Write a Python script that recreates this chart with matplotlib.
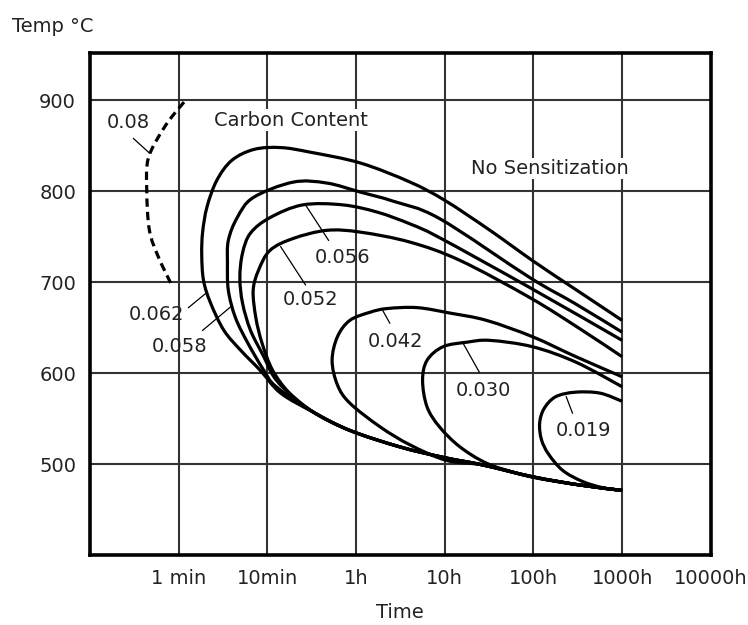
import matplotlib
matplotlib.use("Agg")
import matplotlib.pyplot as plt
from matplotlib.path import Path
from matplotlib.patches import PathPatch

# x axis: decades, 0 = 1 min ... 6 = 10000h (evenly spaced as in the original chart)
tick_labels = ["1 min", "10min", "1h", "10h", "100h", "1000h", "10000h"]
temps = [500, 600, 700, 800, 900]

# shared lower envelope the C-curves run into
env_x = [1.52, 1.93, 2.49, 3.0, 3.43, 3.99, 4.52, 5.0]
env_t = [557, 537, 519, 507, 499, 486, 477, 471]

c062_x = [5.0, 4.46, 4.0, 3.51, 3.0, 2.61, 2.05, 1.48, 1.15, 0.85, 0.6, 0.43, 0.32, 0.27, 0.26, 0.28, 0.36, 0.51, 0.70, 0.92, 1.15]
c062_t = [658, 693, 723, 757, 790, 810, 831, 843, 848, 846, 834, 812, 783, 755, 730, 702, 677, 647, 625, 603, 578]
c058_x = [5.0, 4.46, 3.96, 2.94, 2.42, 2.05, 1.67, 1.29, 0.84, 0.66, 0.56, 0.55, 0.56, 0.64, 0.78, 0.96, 1.1]
c058_t = [645, 677, 705, 770, 789, 799, 809, 810, 793, 771, 746, 721, 691, 661, 633, 603, 585]
c056_x = [5.0, 3.96, 2.94, 2.61, 2.24, 1.85, 1.40, 1.03, 0.81, 0.72, 0.69, 0.72, 0.81, 0.96, 1.06, 1.2]
c056_t = [636, 694, 749, 764, 777, 785, 785, 771, 754, 732, 705, 677, 647, 618, 598, 582]
c052_x = [5.0, 4.52, 3.96, 3.17, 2.61, 2.05, 1.67, 1.29, 1.03, 0.90, 0.84, 0.87, 0.94, 1.06, 1.25]
c052_t = [618, 649, 683, 724, 744, 755, 757, 748, 735, 713, 691, 661, 633, 603, 578]
c042_x = [5.0, 4.48, 3.99, 3.47, 3.06, 2.69, 2.35, 2.16, 1.93, 1.79, 1.73, 1.79, 1.93, 2.27, 2.61, 3.02]
c042_t = [596, 618, 640, 658, 666, 672, 671, 667, 658, 640, 614, 587, 567, 541, 521, 504]
c030_x = [5.0, 4.48, 3.99, 3.51, 3.25, 2.98, 2.80, 2.75, 2.80, 2.94, 3.17, 3.47, 3.81, 4.07]
c030_t = [585, 612, 629, 636, 634, 629, 614, 592, 563, 541, 519, 501, 490, 484]
c019_x = [5.0, 4.75, 4.47, 4.25, 4.12, 4.07, 4.09, 4.17, 4.33, 4.55, 4.78, 5.0]
c019_t = [569, 578, 579, 574, 561, 545, 527, 511, 493, 481, 474, 471]
c08_x = [0.06, -0.15, -0.34, -0.36, -0.33, -0.23, -0.09]
c08_t = [898, 872, 837, 801, 757, 728, 699]

# label text, text position, leader line end on the curve
labels = ["0.08", "0.062", "0.058", "0.056", "0.052", "0.042", "0.030", "0.019"]
label_x = [-0.57, -0.25, 0.01, 1.85, 1.49, 2.44, 3.44, 4.56]
label_t = [876, 665, 629, 727, 681, 635, 581, 537]
lead_x0 = [-0.51, 0.11, 0.27, 1.69, 1.43, 2.38, 3.39, 4.44]
lead_t0 = [858, 672, 647, 746, 697, 655, 601, 556]
lead_x1 = [-0.33, 0.31, 0.60, 1.43, 1.15, 2.30, 3.20, 4.37]
lead_t1 = [842, 688, 674, 785, 739, 669, 634, 574]


def smooth_path(xs, ys):
    # Catmull-Rom through the read points, drawn as cubic Bezier segments
    pts = list(zip(xs, ys))
    verts = [pts[0]]
    codes = [Path.MOVETO]
    n = len(pts)
    for i in range(n - 1):
        p0 = pts[max(i - 1, 0)]
        p1 = pts[i]
        p2 = pts[i + 1]
        p3 = pts[min(i + 2, n - 1)]
        c1 = (p1[0] + (p2[0] - p0[0]) / 6, p1[1] + (p2[1] - p0[1]) / 6)
        c2 = (p2[0] - (p3[0] - p1[0]) / 6, p2[1] - (p3[1] - p1[1]) / 6)
        verts += [c1, c2, p2]
        codes += [Path.CURVE4] * 3
    return Path(verts, codes)


def curve(ax, xs, ys, **kw):
    ax.add_patch(PathPatch(smooth_path(xs, ys), fill=False, edgecolor="black",
                           lw=2.3, zorder=3, capstyle="butt", **kw))


fig = plt.figure(figsize=(7.48, 6.25), dpi=100)
ax = fig.add_axes([0.1203, 0.112, 0.830, 0.8032])

for x in range(6):
    ax.axvline(x, color="#333333", lw=1.5, zorder=1)
for t in temps:
    ax.axhline(t, color="#333333", lw=1.5, zorder=1)

solid = [(c062_x, c062_t), (c058_x, c058_t), (c056_x, c056_t), (c052_x, c052_t)]
for cx, ct in solid:
    curve(ax, cx + env_x, ct + env_t)
curve(ax, c042_x + env_x[4:], c042_t + env_t[4:])
curve(ax, c030_x + env_x[6:], c030_t + env_t[6:])
curve(ax, c019_x, c019_t)
curve(ax, c08_x, c08_t, linestyle=(0, (2.6, 1.6)))

for i, lab in enumerate(labels):
    ax.text(label_x[i], label_t[i], lab, ha="center", va="center", fontsize=14,
            color="#222222", zorder=4)
    ax.plot([lead_x0[i], lead_x1[i]], [lead_t0[i], lead_t1[i]], color="black", lw=0.9, zorder=3)

ax.text(1.27, 878, "Carbon Content", ha="center", va="center", fontsize=14,
        color="#222222", bbox=dict(facecolor="white", edgecolor="none", pad=1))
ax.text(4.19, 825, "No Sensitization", ha="center", va="center", fontsize=14,
        color="#222222", bbox=dict(facecolor="white", edgecolor="none", pad=1))

ax.set_xlim(-1, 6)
ax.set_ylim(400, 952)
ax.set_xticks(range(7))
ax.set_xticklabels(tick_labels)
ax.set_yticks(temps)
ax.tick_params(length=0, labelsize=14, colors="#222222")
ax.tick_params(axis="x", pad=10)
ax.tick_params(axis="y", pad=10)
for s in ax.spines.values():
    s.set_linewidth(2.6)
    s.set_color("black")

fig.text(12 / 748, 1 - 27 / 625, "Temp °C", ha="left", va="center", fontsize=14, color="#222222")
fig.text(400 / 748, 1 - 612 / 625, "Time", ha="center", va="center", fontsize=14, color="#222222")

fig.savefig("out.png", dpi=100)
